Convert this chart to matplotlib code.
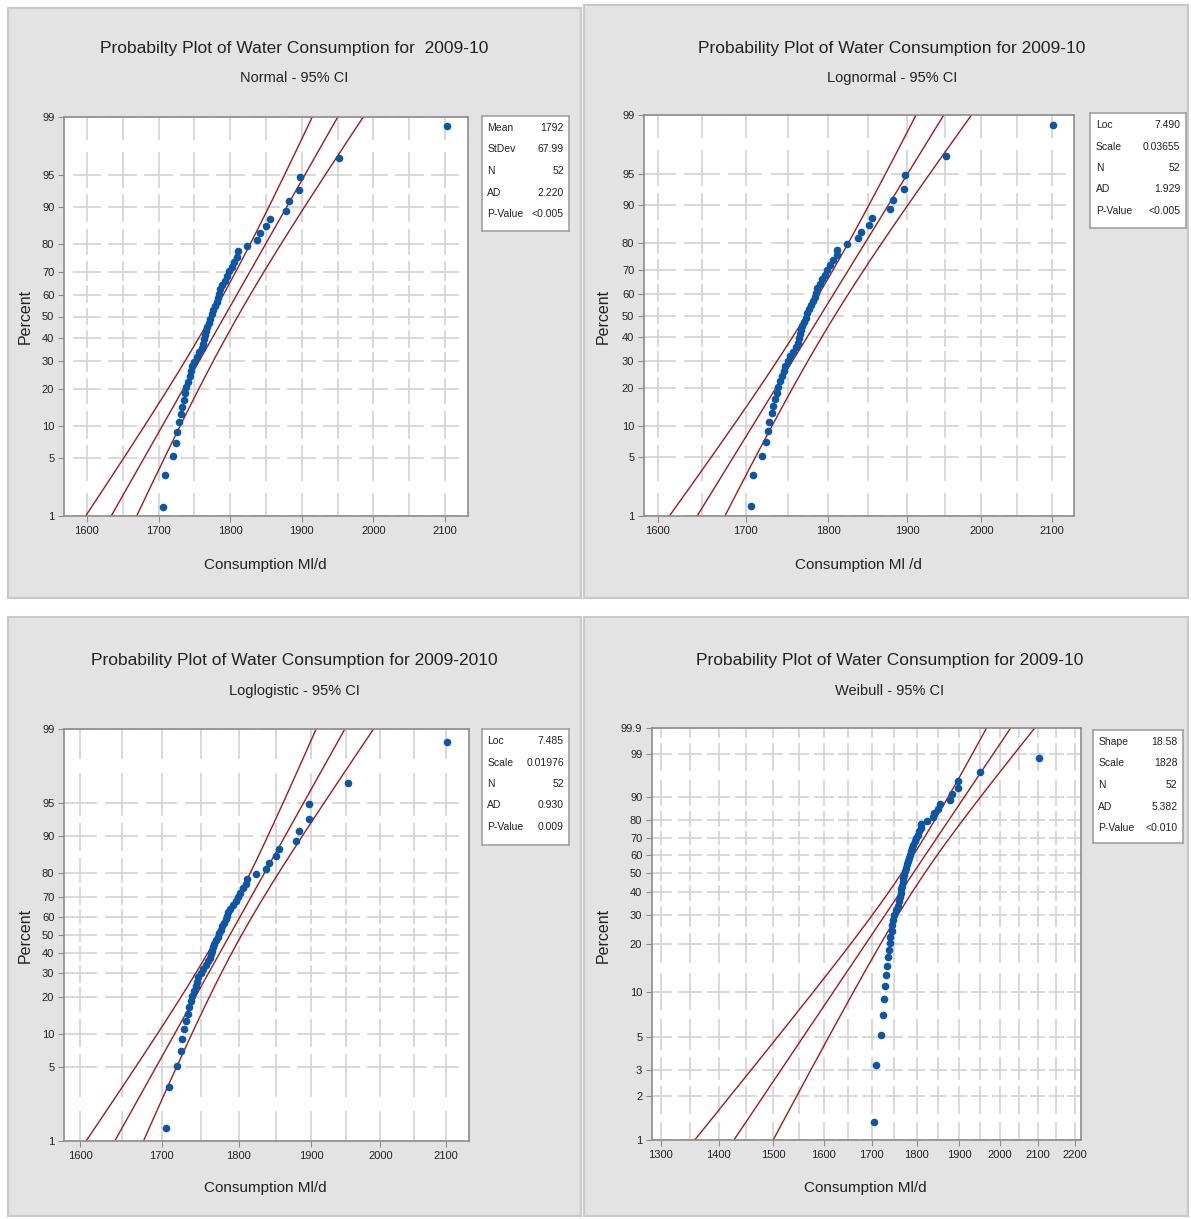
import numpy as np
import matplotlib
matplotlib.use("Agg")
import matplotlib.pyplot as plt
from matplotlib.patches import Rectangle
from matplotlib.collections import LineCollection
from statistics import NormalDist

# water consumption 2009-10, Ml/d (52 weekly values, sorted)
consumption = [1706, 1709, 1719.5, 1724, 1726, 1728, 1731, 1733, 1735, 1737,
               1739, 1741, 1743.5, 1745.5, 1747, 1750, 1753, 1757, 1760, 1762,
               1763.5, 1764.5, 1766, 1768, 1770, 1772, 1774, 1776, 1778.5, 1781,
               1783, 1784.5, 1786, 1789, 1792.5, 1796, 1798.5, 1802, 1806, 1810,
               1811, 1823, 1837.5, 1841, 1850.5, 1855, 1878, 1882, 1896, 1897,
               1952, 2102]

# fitted lines as drawn
normal_fit = (1792, 67.99)          # mean, stdev
lognormal_fit = (7.490, 0.03655)    # loc, scale
loglogistic_fit = (7.489, 0.0186)   # loc, scale
weibull_fit = (18.58, 1828)         # shape, scale

normal_stats = [("Mean", "1792"), ("StDev", "67.99"), ("N", "52"),
                ("AD", "2.220"), ("P-Value", "<0.005")]
lognormal_stats = [("Loc", "7.490"), ("Scale", "0.03655"), ("N", "52"),
                   ("AD", "1.929"), ("P-Value", "<0.005")]
loglogistic_stats = [("Loc", "7.485"), ("Scale", "0.01976"), ("N", "52"),
                     ("AD", "0.930"), ("P-Value", "0.009")]
weibull_stats = [("Shape", "18.58"), ("Scale", "1828"), ("N", "52"),
                 ("AD", "5.382"), ("P-Value", "<0.010")]

pct_ticks = [1, 5, 10, 20, 30, 40, 50, 60, 70, 80, 90, 95, 99]
weibull_pct_ticks = [1, 2, 3, 5, 10, 20, 30, 40, 50, 60, 70, 80, 90, 99, 99.9]
x_ticks = [1600, 1700, 1800, 1900, 2000, 2100]
weibull_x_ticks = [1300, 1400, 1500, 1600, 1700, 1800, 1900, 2000, 2100, 2200]

W, H = 1191, 1219
FONT = ["Liberation Sans", "DejaVu Sans"]
TXT = "#222222"
RED = "#9e1b1b"
BLUE = "#0c56a6"
nd = NormalDist()


def frac(left, top, right, bottom):
    return [left / W, 1 - bottom / H, (right - left) / W, (bottom - top) / H]


def clip_p(p):
    return np.clip(np.asarray(p, dtype=float), 1e-7, 100 - 1e-7) / 100


def norm_fwd(p):
    return np.vectorize(nd.inv_cdf, otypes=[float])(clip_p(p))


def norm_inv(z):
    return np.vectorize(nd.cdf, otypes=[float])(z) * 100


def logit_fwd(p):
    p = clip_p(p)
    return np.log(p / (1 - p))


def logit_inv(z):
    return 100 / (1 + np.exp(-np.asarray(z, dtype=float)))


def weib_fwd(p):
    return np.log(-np.log(1 - clip_p(p)))


def weib_inv(z):
    return 100 * (1 - np.exp(-np.exp(np.asarray(z, dtype=float))))


n = len(consumption)
x_data = np.sort(np.array(consumption))
plot_pos = (np.arange(1, n + 1) - 0.3) / (n + 0.4) * 100
pct = np.linspace(0.01, 99.99, 600)


def fit_lines(kind):
    if kind == "normal":
        mu, s = normal_fit
        w = norm_fwd(pct)
        c = mu + w * s
        se = s * np.sqrt(1 / n + w ** 2 / (2 * n))
        return c, c - 1.96 * se, c + 1.96 * se
    if kind == "lognormal":
        mu, s = lognormal_fit
        w = norm_fwd(pct)
        c = mu + w * s
        se = s * np.sqrt(1 / n + w ** 2 / (2 * n))
    elif kind == "loglogistic":
        mu, s = loglogistic_fit
        w = logit_fwd(pct)
        c = mu + w * s
        se = s * np.sqrt((3 + w ** 2 * 9 / (3 + np.pi ** 2)) / n)
    else:
        shape, scale = weibull_fit
        b = 1 / shape
        w = weib_fwd(pct)
        c = np.log(scale) + w * b
        se = b * np.sqrt((1.1087 + 2 * 0.2570 * w + 0.6079 * w ** 2) / n)
    return np.exp(c), np.exp(c - 1.96 * se), np.exp(c + 1.96 * se)


def cross_grid(ax, xs, ys, a=0.4):
    # Minitab-style broken grid: a "+" at every crossing
    to_ax = ax.transData + ax.transAxes.inverted()
    gx = to_ax.transform(np.column_stack([xs, np.full(len(xs), ys[0])]))[:, 0]
    gy = to_ax.transform(np.column_stack([np.full(len(ys), xs[0]), ys]))[:, 1]
    ex = np.concatenate([[2 * gx[0] - gx[1]], gx, [2 * gx[-1] - gx[-2]]])
    ey = np.concatenate([[2 * gy[0] - gy[1]], gy, [2 * gy[-1] - gy[-2]]])
    segs = []
    for y in gy:
        for i, x in enumerate(gx):
            segs.append([(x - a * (x - ex[i]), y), (x + a * (ex[i + 2] - x), y)])
    for x in gx:
        for j, y in enumerate(gy):
            segs.append([(x, y - a * (y - ey[j])), (x, y + a * (ey[j + 2] - y))])
    ax.add_collection(LineCollection(segs, transform=ax.transAxes,
                                     colors="#d6d6d6", linewidths=1.3, zorder=0.5))


fig = plt.figure(figsize=(W / 100, H / 100), dpi=100)

panels = [
    dict(kind="normal", panel=(8, 8, 581, 598), ax=(64, 117, 468, 516),
         legend=(482, 116, 569, 231), stats=normal_stats,
         xlim=(1568, 2132), xticks=x_ticks, grid_x=np.arange(1600, 2101, 50),
         scale=(norm_fwd, norm_inv), ylim=(1, 99), yticks=pct_ticks,
         title="Probabilty Plot of Water Consumption for  2009-10",
         sub="Normal - 95% CI", cx=294, ty=48, xlab="Consumption Ml/d",
         xlx=265, xly=565, ylx=25, yly=316),
    dict(kind="lognormal", panel=(584, 5, 1188, 598), ax=(644, 115, 1074, 516),
         legend=(1090, 113, 1186, 228), stats=lognormal_stats,
         xlim=(1585, 2132), xticks=x_ticks, grid_x=np.arange(1600, 2101, 50),
         scale=(norm_fwd, norm_inv), ylim=(1, 99), yticks=pct_ticks,
         title="Probability Plot of Water Consumption for 2009-10",
         sub="Lognormal - 95% CI", cx=892, ty=48, xlab="Consumption Ml /d",
         xlx=858, xly=565, ylx=603, yly=316),
    dict(kind="loglogistic", panel=(8, 617, 581, 1216), ax=(64, 729, 469, 1141),
         legend=(482, 729, 569, 845), stats=loglogistic_stats,
         xlim=(1581, 2136), xticks=x_ticks, grid_x=np.arange(1600, 2101, 50),
         scale=(logit_fwd, logit_inv), ylim=(1, 99), yticks=pct_ticks,
         title="Probability Plot of Water Consumption for 2009-2010",
         sub="Loglogistic - 95% CI", cx=294, ty=661, xlab="Consumption Ml/d",
         xlx=265, xly=1188, ylx=25, yly=935),
    dict(kind="weibull", panel=(584, 617, 1188, 1216), ax=(652, 728, 1081, 1140),
         legend=(1093, 730, 1183, 843), stats=weibull_stats,
         xlim=(1286, 2218), xticks=weibull_x_ticks,
         grid_x=np.arange(1300, 2201, 50),
         scale=(weib_fwd, weib_inv), ylim=(1, 99.9), yticks=weibull_pct_ticks,
         title="Probability Plot of Water Consumption for 2009-10",
         sub="Weibull - 95% CI", cx=890, ty=661, xlab="Consumption Ml/d",
         xlx=865, xly=1188, ylx=603, yly=935),
]

for p in panels:
    l, t, r, b = p["panel"]
    fig.patches.append(Rectangle((l / W, 1 - b / H), (r - l) / W, (b - t) / H,
                                 transform=fig.transFigure, facecolor="#e3e3e3",
                                 edgecolor="#c8c8c8", linewidth=1.5, zorder=-5))

    ax = fig.add_axes(frac(*p["ax"]))
    ax.set_zorder(2)
    ax.set_facecolor("white")
    if p["kind"] != "normal":
        ax.set_xscale("log")
    ax.set_yscale("function", functions=p["scale"])
    ax.set_xlim(*p["xlim"])
    ax.set_ylim(*p["ylim"])

    c, lo, hi = fit_lines(p["kind"])
    for line in (c, lo, hi):
        ax.plot(line, pct, color=RED, linewidth=1.0, zorder=2)
    ax.plot(x_data, plot_pos, "o", color=BLUE, markersize=5.5,
            markeredgewidth=0, zorder=3)

    ax.set_xticks(p["xticks"])
    ax.set_xticklabels([str(v) for v in p["xticks"]])
    ax.set_yticks(p["yticks"])
    ax.set_yticklabels([f"{v:g}" for v in p["yticks"]])
    ax.xaxis.set_minor_locator(matplotlib.ticker.NullLocator())
    ax.yaxis.set_minor_locator(matplotlib.ticker.NullLocator())
    ax.tick_params(length=4, width=0.8, color="#8c8c8c", labelsize=8,
                   labelcolor=TXT, pad=3)
    for lab in ax.get_xticklabels() + ax.get_yticklabels():
        lab.set_family(FONT)
    for sp in ax.spines.values():
        sp.set_color("#8c8c8c")
        sp.set_linewidth(1.2)

    cross_grid(ax, p["grid_x"], p["yticks"])

    fig.text(p["cx"] / W, 1 - p["ty"] / H, p["title"], ha="center", va="center",
             fontsize=12.5, color=TXT, family=FONT)
    fig.text(p["cx"] / W, 1 - (p["ty"] + 30) / H, p["sub"], ha="center",
             va="center", fontsize=10.5, color=TXT, family=FONT)
    fig.text(p["xlx"] / W, 1 - p["xly"] / H, p["xlab"], ha="center", va="center",
             fontsize=11, color=TXT, family=FONT)
    fig.text(p["ylx"] / W, 1 - p["yly"] / H, "Percent", ha="center", va="center",
             rotation=90, fontsize=11.5, color=TXT, family=FONT)

    ll, lt, lr, lb = p["legend"]
    lax = fig.add_axes(frac(ll, lt, lr, lb))
    lax.set_zorder(2)
    lax.set_xticks([])
    lax.set_yticks([])
    for sp in lax.spines.values():
        sp.set_color("#a0a0a0")
        sp.set_linewidth(1.2)
    hgt = lb - lt
    for i, (k, v) in enumerate(p["stats"]):
        yy = 1 - (12 + 21.5 * i) / hgt
        lax.text(0.06, yy, k, ha="left", va="center", fontsize=7.5,
                 color=TXT, family=FONT, transform=lax.transAxes)
        lax.text(0.94, yy, v, ha="right", va="center", fontsize=7.5,
                 color=TXT, family=FONT, transform=lax.transAxes)

fig.savefig("out.png", dpi=100, facecolor="white")
